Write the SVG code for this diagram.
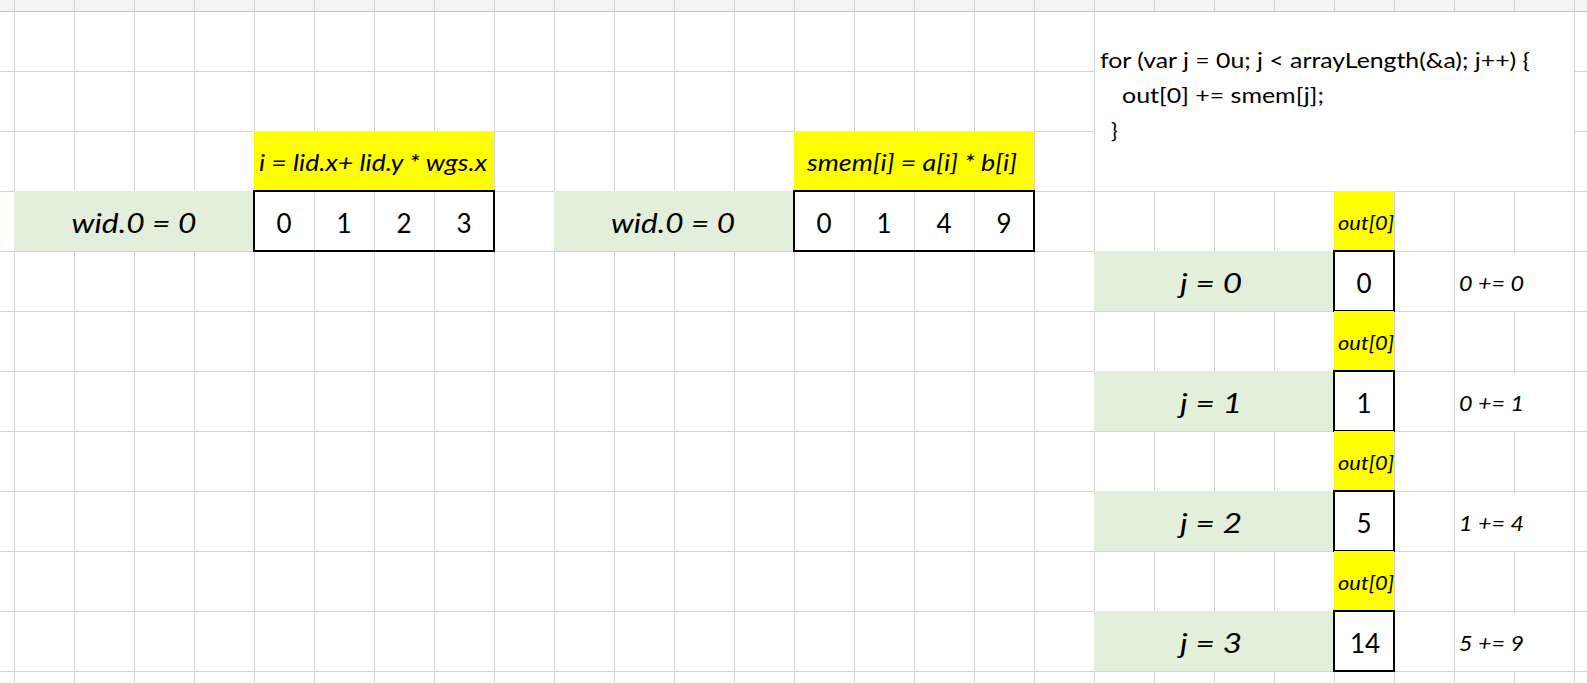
<svg xmlns="http://www.w3.org/2000/svg" width="1587" height="683" viewBox="0 0 1587 683">
<style>
text{font-family:Lato,"Open Sans","Liberation Sans",sans-serif;fill:#000}
.it{font-style:italic}
.big{font-size:27px;text-anchor:middle}
.num{font-size:26px;text-anchor:middle}
.yl{font-size:23px;text-anchor:middle}
.out{font-size:18.5px;text-anchor:middle}
.ann{font-size:22px}
.code{font-size:22px}
.grid{stroke:#d3d3d3;stroke-width:1;fill:none}
.green{fill:#e2efda}
.yellow{fill:#ffff00}
.box{fill:none;stroke:#000;stroke-width:2}
.wbox{fill:#fff;stroke:#000;stroke-width:2}
</style>
<rect x="0" y="0" width="1587" height="683" fill="#fff"/>
<g id="grid">
<rect x="0" y="0" width="1587" height="11" fill="#f4f4f4"/>
<path class="grid" d="M14.5 0V683M74.5 0V683M134.5 0V683M194.5 0V683M254.5 0V683M314.5 0V683M374.5 0V683M434.5 0V683M494.5 0V683M554.5 0V683M614.5 0V683M674.5 0V683M734.5 0V683M794.5 0V683M854.5 0V683M914.5 0V683M974.5 0V683M1034.5 0V683M1094.5 0V683M1154.5 0V683M1214.5 0V683M1274.5 0V683M1334.5 0V683M1394.5 0V683M1454.5 0V683M1514.5 0V683M1574.5 0V683"/>
<path class="grid" d="M0 71.5H1587M0 131.5H1587M0 191.5H1587M0 251.5H1587M0 311.5H1587M0 371.5H1587M0 431.5H1587M0 491.5H1587M0 551.5H1587M0 611.5H1587M0 671.5H1587"/>
<path d="M0 11.5H1587" stroke="#c2c2c2" stroke-width="1"/>
<rect x="1510" y="253" width="10" height="58" fill="#fff"/>
<rect x="1510" y="373" width="10" height="58" fill="#fff"/>
<rect x="1510" y="493" width="10" height="58" fill="#fff"/>
<rect x="1510" y="613" width="10" height="58" fill="#fff"/>
</g>
<g id="connectors"/>
<g id="code">
<rect x="1095" y="12" width="479" height="179" fill="#fff"/>
<text class="code" x="1100" y="68" textLength="430" lengthAdjust="spacingAndGlyphs">for (var j = 0u; j &lt; arrayLength(&amp;a); j++) {</text>
<text class="code" x="1122" y="103" textLength="202" lengthAdjust="spacingAndGlyphs">out[0] += smem[j];</text>
<text class="code" x="1111" y="138">}</text>
</g>
<g id="wid1">
<rect class="green" x="14" y="191" width="240" height="60"/>
<text class="it big" x="134" y="232.5" textLength="125" lengthAdjust="spacingAndGlyphs">wid.0 = 0</text>
</g>
<g id="formula1">
<rect class="yellow" x="254" y="131" width="240" height="60"/>
<text class="it yl" x="373" y="171" textLength="228" lengthAdjust="spacingAndGlyphs">i = lid.x+ lid.y * wgs.x</text>
</g>
<g id="array1">
<rect class="box" x="254" y="191" width="240" height="60"/>
<text class="num" x="284" y="233">0</text>
<text class="num" x="344" y="233">1</text>
<text class="num" x="404" y="233">2</text>
<text class="num" x="464" y="233">3</text>
</g>
<g id="wid2">
<rect class="green" x="554" y="191" width="240" height="60"/>
<text class="it big" x="673" y="232.5" textLength="124" lengthAdjust="spacingAndGlyphs">wid.0 = 0</text>
</g>
<g id="formula2">
<rect class="yellow" x="794" y="131" width="240" height="60"/>
<text class="it yl" x="912" y="171" textLength="210" lengthAdjust="spacingAndGlyphs">smem[i] = a[i] * b[i]</text>
</g>
<g id="array2">
<rect class="box" x="794" y="191" width="240" height="60"/>
<text class="num" x="824" y="233">0</text>
<text class="num" x="884" y="233">1</text>
<text class="num" x="944" y="233">4</text>
<text class="num" x="1004" y="233">9</text>
</g>
<g id="step0">
<rect class="yellow" x="1334" y="191" width="60" height="60"/>
<text class="it out" x="1366" y="230" textLength="56" lengthAdjust="spacingAndGlyphs">out[0]</text>
<rect class="green" x="1094" y="251" width="240" height="60"/>
<text class="it big" x="1211" y="293" textLength="62" lengthAdjust="spacingAndGlyphs">j = 0</text>
<rect class="wbox" x="1334" y="251" width="60" height="60"/>
<text class="num" x="1364" y="293">0</text>
<text class="it ann" x="1459" y="290.5" textLength="65" lengthAdjust="spacingAndGlyphs">0 += 0</text>
</g>
<g id="step1">
<rect class="yellow" x="1334" y="311" width="60" height="60"/>
<text class="it out" x="1366" y="350" textLength="56" lengthAdjust="spacingAndGlyphs">out[0]</text>
<rect class="green" x="1094" y="371" width="240" height="60"/>
<text class="it big" x="1211" y="413" textLength="62" lengthAdjust="spacingAndGlyphs">j = 1</text>
<rect class="wbox" x="1334" y="371" width="60" height="60"/>
<text class="num" x="1364" y="413">1</text>
<text class="it ann" x="1459" y="410.5" textLength="65" lengthAdjust="spacingAndGlyphs">0 += 1</text>
</g>
<g id="step2">
<rect class="yellow" x="1334" y="431" width="60" height="60"/>
<text class="it out" x="1366" y="470" textLength="56" lengthAdjust="spacingAndGlyphs">out[0]</text>
<rect class="green" x="1094" y="491" width="240" height="60"/>
<text class="it big" x="1211" y="533" textLength="62" lengthAdjust="spacingAndGlyphs">j = 2</text>
<rect class="wbox" x="1334" y="491" width="60" height="60"/>
<text class="num" x="1364" y="533">5</text>
<text class="it ann" x="1459" y="530.5" textLength="65" lengthAdjust="spacingAndGlyphs">1 += 4</text>
</g>
<g id="step3">
<rect class="yellow" x="1334" y="551" width="60" height="60"/>
<text class="it out" x="1366" y="590" textLength="56" lengthAdjust="spacingAndGlyphs">out[0]</text>
<rect class="green" x="1094" y="611" width="240" height="60"/>
<text class="it big" x="1211" y="653" textLength="62" lengthAdjust="spacingAndGlyphs">j = 3</text>
<rect class="wbox" x="1334" y="611" width="60" height="60"/>
<text class="num" x="1365" y="653">14</text>
<text class="it ann" x="1459" y="650.5" textLength="65" lengthAdjust="spacingAndGlyphs">5 += 9</text>
</g>
</svg>
